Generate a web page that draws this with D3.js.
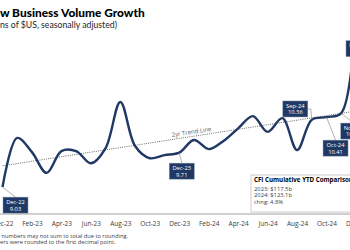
<!DOCTYPE html>
<html>
<head>
<meta charset="utf-8">
<script src="https://cdn.jsdelivr.net/npm/d3@7"></script>
<style>
  body { margin: 0; background: #fff; }
  svg { display: block; }
</style>
</head>
<body>
<div id="chart"></div>
<script>
var months = ["Dec-22","Jan-23","Feb-23","Mar-23","Apr-23","May-23","Jun-23","Jul-23","Aug-23","Sep-23","Oct-23","Nov-23",
              "Dec-23","Jan-24","Feb-24","Mar-24","Apr-24","May-24","Jun-24","Jul-24","Aug-24","Sep-24","Oct-24","Nov-24","Dec-24"];
var volume = [9.03, 10.00, 9.72, 9.31, 9.74, 9.74, 9.50, 9.80, 10.71, 9.84, 9.60, 9.66,
              9.71, 9.96, 9.78, 9.94, 10.19, 10.43, 10.12, 10.39, 9.76, 10.36, 10.41, 10.49, 12.45];
var tickMonths = ["Dec-22","Feb-23","Apr-23","Jun-23","Aug-23","Oct-23","Dec-23","Feb-24","Apr-24","Jun-24","Aug-24","Oct-24","Dec-24"];
var trendEnds = [9.45, 10.53];   // 2yr trend line at Dec-22 and Dec-24
var labelled = ["Dec-22","Dec-23","Sep-24","Oct-24","Nov-24","Dec-24"];
var ytdLines = ["2023: $117.5b", "2024: $123.1b", "chng: 4.8%"];

var W = 350, H = 250;
var navy = "#1f3864";
var lblFont = "'Open Sans', sans-serif";
var headFont = "Lato, 'Liberation Sans', sans-serif";

var svg = d3.select("#chart").append("svg")
    .attr("width", W)
    .attr("height", H);

var x = d3.scaleLinear().domain([0, months.length - 1]).range([2.5, 356]);
var y = d3.scaleLinear().domain([8.5, 12.72]).range([214, 0]);

// title / subtitle / note, cut off at the left edge like the reference
function cutText(full, prefix, baseline, size, target, weight, color, family) {
  var t = svg.append("text")
      .attr("y", baseline)
      .style("font-family", family)
      .style("font-weight", weight)
      .style("font-size", size + "px")
      .attr("fill", color)
      .text(full.slice(prefix.length));
  var s = target ? size * target / t.node().getComputedTextLength() : size;
  t.style("font-size", s + "px").text(prefix);
  var pw = t.node().getComputedTextLength();
  t.text(full).attr("x", -pw);
  return s;
}
cutText("New Business Volume Growth", "Ne", 17, 13, 145, "900", "#000", headFont);
cutText("(in billions of $US, seasonally adjusted)", "(in billio", 27.5, 8, 117, "normal", "#262626", headFont);
var fs = cutText("Note: Individual numbers may not sum to total due to rounding.", "Note: Individual ", 238.2, 5, 127, "normal", "#404040", lblFont);
cutText("Numbers were rounded to the first decimal point.", "Numb", 243.9, fs, 0, "normal", "#404040", lblFont);

// axis
svg.append("line")
    .attr("x1", 0).attr("x2", W)
    .attr("y1", 214).attr("y2", 214)
    .attr("stroke", "#bfbfbf")
    .attr("stroke-width", 1.5);

var xAxis = svg.append("g")
    .attr("transform", "translate(0,214)")
    .call(d3.axisBottom(x)
      .tickValues(tickMonths.map(function(m) { return months.indexOf(m); }))
      .tickFormat(function(i) { return months[i]; })
      .tickSize(0)
      .tickPadding(7.5));
xAxis.select(".domain").remove();
xAxis.selectAll("text")
    .style("font-family", lblFont)
    .style("font-size", "6.5px")
    .attr("fill", "#404040");

// trend line
svg.append("line")
    .attr("x1", x(0)).attr("y1", y(trendEnds[0]))
    .attr("x2", x(months.length - 1)).attr("y2", y(trendEnds[1]))
    .attr("stroke", "#595959")
    .attr("stroke-width", 0.9)
    .attr("stroke-dasharray", "1,1.2");

var slope = (y(trendEnds[1]) - y(trendEnds[0])) / (x(months.length - 1) - x(0));
var ang = Math.atan(slope) * 180 / Math.PI;
var tx = 172, ty = y(trendEnds[0]) + slope * (tx - x(0)) - 2.5;
svg.append("text")
    .attr("transform", "translate(" + tx + "," + ty + ") rotate(" + ang + ")")
    .style("font-family", lblFont)
    .style("font-size", "6px")
    .attr("fill", "#595959")
    .text("2yr Trend Line");

// main line
var line = d3.line()
    .x(function(d, i) { return x(i); })
    .y(function(d) { return y(d); })
    .curve(d3.curveCatmullRom.alpha(0.5));

svg.append("path")
    .datum(volume)
    .attr("d", line)
    .attr("fill", "none")
    .attr("stroke", navy)
    .attr("stroke-width", 2.4)
    .attr("stroke-linejoin", "round");

// call-out boxes
var boxW = 25, boxH = 16;
var place = {
  "Dec-22": {dx: 13, dy: 10, anchor: "top"},
  "Dec-23": {dx: 2.5, dy: 10.5, anchor: "top"},
  "Sep-24": {dx: -16.5, dy: -18.7, anchor: "right"},
  "Oct-24": {dx: 9, dy: 23, anchor: "top"},
  "Nov-24": {dx: 12, dy: 10, anchor: "top"},
  "Dec-24": {dx: 2.5, dy: 27, anchor: "top"}
};

labelled.forEach(function(m) {
  var i = months.indexOf(m), p = place[m];
  var px = x(i), py = y(volume[i]);
  var cx = px + p.dx, top = py + p.dy;
  var ax = p.anchor === "right" ? cx + boxW / 2 : cx;
  var ay = p.anchor === "right" ? top + boxH / 2 : top;

  svg.append("polyline")
      .attr("points", p.anchor === "right"
        ? [[px, py], [px - 1, ay], [ax, ay]].join(" ")
        : [[px, py], [ax, ay]].join(" "))
      .attr("fill", "none")
      .attr("stroke", "#7f7f7f")
      .attr("stroke-width", 0.6);

  svg.append("rect")
      .attr("x", cx - boxW / 2).attr("y", top)
      .attr("width", boxW).attr("height", boxH)
      .attr("fill", navy)
      .attr("stroke", "#8497b0")
      .attr("stroke-width", 0.5);

  svg.append("text")
      .attr("x", cx).attr("y", top + 6.6)
      .attr("text-anchor", "middle")
      .style("font-family", lblFont)
      .style("font-size", "5.8px")
      .attr("fill", "#fff")
      .text(m);
  svg.append("text")
      .attr("x", cx).attr("y", top + 13.4)
      .attr("text-anchor", "middle")
      .style("font-family", lblFont)
      .style("font-size", "5.8px")
      .attr("fill", "#fff")
      .text(volume[i].toFixed(2));
});

// YTD comparison box
var bx = 251, by = 175;
svg.append("rect")
    .attr("x", bx).attr("y", by)
    .attr("width", 130).attr("height", 37)
    .attr("fill", "#fff")
    .attr("stroke", "#bfbfbf")
    .attr("stroke-width", 0.8);
svg.append("text")
    .attr("x", bx + 3).attr("y", by + 7)
    .style("font-family", lblFont)
    .style("font-weight", "bold")
    .style("font-size", "6.2px")
    .attr("fill", "#000")
    .text("CFI Cumulative YTD Comparison");
svg.selectAll(".ytd")
    .data(ytdLines)
  .enter().append("text")
    .attr("class", "ytd")
    .attr("x", bx + 3)
    .attr("y", function(d, i) { return by + 15.5 + i * 6.5; })
    .style("font-family", lblFont)
    .style("font-size", "5.8px")
    .attr("fill", "#404040")
    .text(function(d) { return d; });
</script>
</body>
</html>
